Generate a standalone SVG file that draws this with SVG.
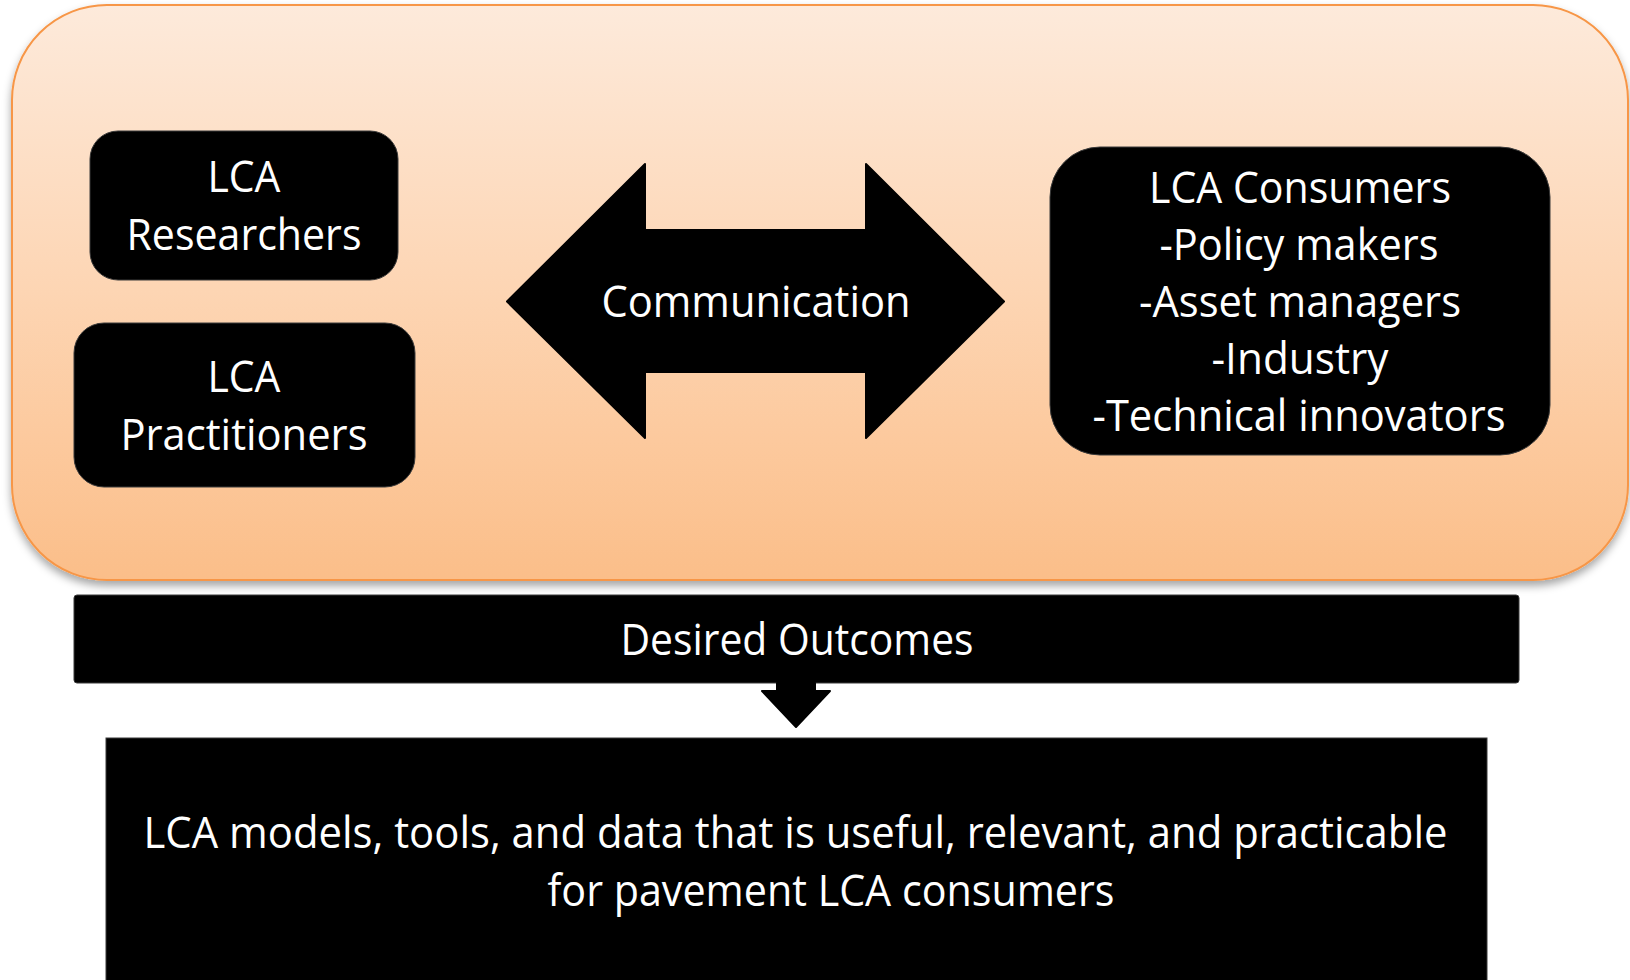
<svg xmlns="http://www.w3.org/2000/svg" width="1630" height="980" viewBox="0 0 1630 980">
  <defs>
    <linearGradient id="peach" x1="0" y1="0" x2="0" y2="1">
      <stop offset="0" stop-color="#FDEADB"/>
      <stop offset="0.5" stop-color="#FDD5B3"/>
      <stop offset="1" stop-color="#FBBE89"/>
    </linearGradient>
    <filter id="shadow" x="-5%" y="-5%" width="110%" height="115%">
      <feDropShadow dx="0" dy="5" stdDeviation="4" flood-color="#000" flood-opacity="0.35"/>
    </filter>
    <filter id="soft" x="-5%" y="-5%" width="110%" height="115%">
      <feDropShadow dx="0" dy="1" stdDeviation="1" flood-color="#000" flood-opacity="0.3"/>
    </filter>
  </defs>
  <style>
    .box { fill: #000; stroke: #3a3a3a; stroke-width: 1; }
    .lbl { font-family: "Open Sans", "Noto Sans", sans-serif; font-size: 43px; fill: #fff; text-anchor: middle; }
    .sh { fill: #000; stroke: #000; stroke-width: 2; stroke-linejoin: round; }
  </style>
  <rect width="1630" height="980" fill="#fff"/>

  <g id="container">
    <rect x="12" y="5" width="1616" height="575" rx="95" ry="95" fill="url(#peach)" stroke="#F79646" stroke-width="2" filter="url(#shadow)"/>
  </g>

  <g id="researchers">
    <rect class="box" x="90" y="131" width="308" height="149" rx="28" ry="28"/>
    <text class="lbl" x="244" y="192" textLength="73" lengthAdjust="spacingAndGlyphs">LCA</text>
    <text class="lbl" x="244" y="250" textLength="235" lengthAdjust="spacingAndGlyphs">Researchers</text>
  </g>

  <g id="practitioners">
    <rect class="box" x="74" y="323" width="341" height="164" rx="30" ry="30"/>
    <text class="lbl" x="244" y="392" textLength="73" lengthAdjust="spacingAndGlyphs">LCA</text>
    <text class="lbl" x="244" y="450" textLength="247" lengthAdjust="spacingAndGlyphs">Practitioners</text>
  </g>

  <g id="communication">
    <polygon class="sh" points="507,301.5 645,164 645,230 866,230 866,164 1004,301.5 866,438 866,372 645,372 645,438"/>
    <text class="lbl" x="756" y="317" textLength="309" lengthAdjust="spacingAndGlyphs">Communication</text>
  </g>

  <g id="consumers">
    <rect class="box" x="1050" y="147" width="500" height="308" rx="50" ry="50"/>
    <text class="lbl" x="1300" y="203" textLength="302" lengthAdjust="spacingAndGlyphs">LCA Consumers</text>
    <text class="lbl" x="1299" y="260" textLength="279" lengthAdjust="spacingAndGlyphs">-Policy makers</text>
    <text class="lbl" x="1300" y="317" textLength="322" lengthAdjust="spacingAndGlyphs">-Asset managers</text>
    <text class="lbl" x="1300" y="374" textLength="177" lengthAdjust="spacingAndGlyphs">-Industry</text>
    <text class="lbl" x="1299" y="431" textLength="413" lengthAdjust="spacingAndGlyphs">-Technical innovators</text>
  </g>

  <g id="desired-outcomes">
    <rect class="box" x="74" y="595" width="1445" height="88" rx="3" ry="3"/>
    <text class="lbl" x="797" y="655" textLength="353" lengthAdjust="spacingAndGlyphs">Desired Outcomes</text>
  </g>

  <g id="connectors">
    <polygon class="sh" points="777,683 815,683 815,691 830,691 796,727 762,691 777,691"/>
  </g>

  <g id="result">
    <rect class="box" x="106" y="738" width="1381" height="262"/>
    <text class="lbl" x="795.5" y="848" textLength="1304" lengthAdjust="spacingAndGlyphs">LCA models, tools, and data that is useful, relevant, and practicable</text>
    <text class="lbl" x="831" y="906" textLength="567" lengthAdjust="spacingAndGlyphs">for pavement LCA consumers</text>
  </g>
</svg>
